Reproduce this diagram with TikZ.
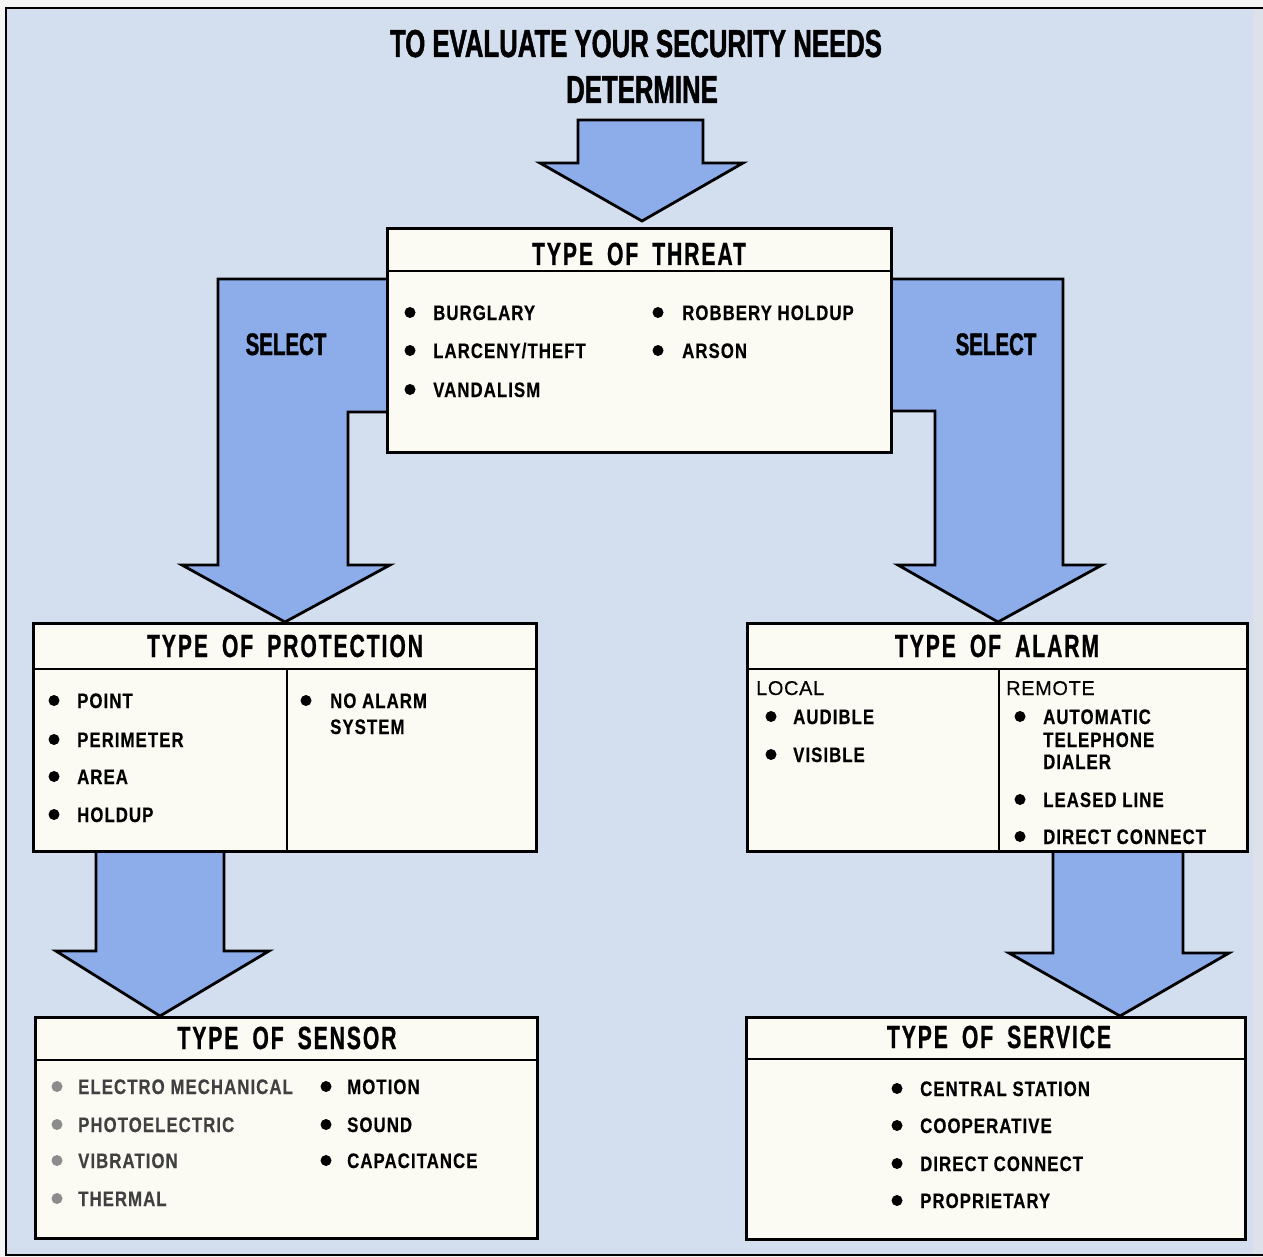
\documentclass[tikz,border=0pt]{standalone}
\usepackage{fontspec}
\setmainfont{Liberation Sans}
\newfontfamily\condfont[FakeStretch=0.66,FakeBold=1.2]{Liberation Sans}
\newfontfamily\headfont[FakeStretch=0.66,LetterSpace=6,WordSpace=1.8,FakeBold=0.8]{Liberation Sans}
\newfontfamily\itemfont[FakeStretch=0.8,LetterSpace=5,FakeBold=0.4]{Liberation Sans}
\newfontfamily\subfont[LetterSpace=3,FakeBold=0.3]{Liberation Sans}
\definecolor{bgblue}{HTML}{D3DEEF}
\definecolor{arrowblue}{HTML}{8DADEA}
\definecolor{boxwhite}{HTML}{FBFAF3}
\definecolor{edgestrip}{HTML}{DCE1EA}
\newcommand\bulitem[5]{%
  \fill (#2,#3-7.5) circle (5.5);
  \node[itemtxt] (#1) at (#4,#3) {#5};}
\newcommand\bulitemg[5]{%
  \fill[black!45] (#2,#3-7.5) circle (5.5);
  \node[itemtxt,text=black!75] (#1) at (#4,#3) {#5};}
\tikzset{
  boxsty/.style={draw=black, fill=boxwhite, line width=3pt, anchor=north west, inner sep=0, outer sep=0},
  arrowsty/.style={draw=black, fill=arrowblue, line width=2.8pt, line join=miter},
  divsty/.style={draw=black, line width=2.8pt},
  itemtxt/.style={anchor=base west, inner sep=0, font=\itemfont\bfseries\fontsize{21}{23}\selectfont},
  subtxt/.style={anchor=base west, inner sep=0, font=\subfont\fontsize{20}{22}\selectfont},
  headtxt/.style={anchor=base, inner sep=0, font=\headfont\bfseries\fontsize{32}{36}\selectfont},
  titletxt/.style={anchor=base, inner sep=0, font=\condfont\bfseries\fontsize{39}{42}\selectfont},
  seltxt/.style={anchor=base, inner sep=0, font=\condfont\bfseries\fontsize{31}{34}\selectfont}
}
\begin{document}
\begin{tikzpicture}[x=1pt,y=-1pt]
\useasboundingbox (0,0) rectangle (1263,1257);
% background and frame
\fill[white!96!black] (0,0) rectangle (1263,1257);
\fill[bgblue] (6,8) rectangle (1263,1255);
\fill[edgestrip] (1253,8) rectangle (1263,1255);
\draw[line width=2pt] (1263,8) -- (6,8) -- (6,1255) -- (1263,1255);

% title
\node[titletxt] (title) at (636,57) {TO EVALUATE YOUR SECURITY NEEDS};
\node[titletxt] (determine) at (642,103) {DETERMINE};

% arrows
\draw[arrowsty] (578,120) -- (703,120) -- (703,163) -- (743,163) -- (642,221) -- (540,163) -- (578,163) -- cycle;
\draw[arrowsty] (218,279) -- (398,279) -- (398,412) -- (348,412) -- (348,565) -- (390,565) -- (285,622) -- (182,565) -- (218,565) -- cycle;
\draw[arrowsty] (1063,279) -- (880,279) -- (880,411) -- (935,411) -- (935,565) -- (898,565) -- (998,622) -- (1102,565) -- (1063,565) -- cycle;
\draw[arrowsty] (96,845) -- (224,845) -- (224,951) -- (269,951) -- (160,1016) -- (56,951) -- (96,951) -- cycle;
\draw[arrowsty] (1053,845) -- (1183,845) -- (1183,953) -- (1229,953) -- (1120,1016) -- (1009,953) -- (1053,953) -- cycle;

\node[seltxt] (selL) at (286,355) {SELECT};
\node[seltxt] (selR) at (996,355) {SELECT};

% boxes
\node[boxsty, minimum width=504, minimum height=223] (threat) at (387,229) {};
\draw[divsty] (387,271) -- (891,271);
\node[boxsty, minimum width=503, minimum height=228] (prot) at (33,623) {};
\draw[divsty] (33,669) -- (536,669);
\draw[divsty] (287,669) -- (287,851);
\node[boxsty, minimum width=500, minimum height=228] (alarm) at (747,623) {};
\draw[divsty] (747,669) -- (1247,669);
\draw[divsty] (999,669) -- (999,851);
\node[boxsty, minimum width=502, minimum height=221] (sensor) at (35,1017) {};
\draw[divsty] (35,1060) -- (537,1060);
\node[boxsty, minimum width=499, minimum height=222] (service) at (746,1017) {};
\draw[divsty] (746,1059) -- (1245,1059);

% headers
\node[headtxt] (threatH) at (639,265) {TYPE OF THREAT};
\node[headtxt] (protH) at (285,657) {TYPE OF PROTECTION};
\node[headtxt] (alarmH) at (997,657) {TYPE OF ALARM};
\node[headtxt] (sensorH) at (287,1049) {TYPE OF SENSOR};
\node[headtxt] (serviceH) at (999,1048) {TYPE OF SERVICE};

% threat items
\bulitem{th1}{410}{320}{433}{BURGLARY}
\bulitem{th2}{410}{358}{433}{LARCENY/THEFT}
\bulitem{th3}{410}{397}{433}{VANDALISM}
\bulitem{th4}{658}{320}{682}{ROBBERY HOLDUP}
\bulitem{th5}{658}{358}{682}{ARSON}

% protection items
\bulitem{pr1}{54}{708}{77}{POINT}
\bulitem{pr2}{54}{747}{77}{PERIMETER}
\bulitem{pr3}{54}{784}{77}{AREA}
\bulitem{pr4}{54}{822}{77}{HOLDUP}
\bulitem{pr5}{306}{708}{330}{NO ALARM}
\node[itemtxt] (pr5b) at (330,734) {SYSTEM};

% alarm items
\node[subtxt] (local) at (756,695) {LOCAL};
\bulitem{al1}{771}{724}{793}{AUDIBLE}
\bulitem{al2}{771}{762}{793}{VISIBLE}
\node[subtxt] (remote) at (1006,695) {REMOTE};
\bulitem{al3}{1020}{724}{1043}{AUTOMATIC}
\node[itemtxt] (al3b) at (1043,747) {TELEPHONE};
\node[itemtxt] (al3c) at (1043,769) {DIALER};
\bulitem{al4}{1020}{807}{1043}{LEASED LINE}
\bulitem{al5}{1020}{844}{1043}{DIRECT CONNECT}

% sensor items
\bulitemg{se1}{57}{1094}{78}{ELECTRO MECHANICAL}
\bulitemg{se2}{57}{1132}{78}{PHOTOELECTRIC}
\bulitemg{se3}{57}{1168}{78}{VIBRATION}
\bulitemg{se4}{57}{1206}{78}{THERMAL}
\bulitem{se5}{326}{1094}{347}{MOTION}
\bulitem{se6}{326}{1132}{347}{SOUND}
\bulitem{se7}{326}{1168}{347}{CAPACITANCE}

% service items
\bulitem{sv1}{897}{1096}{920}{CENTRAL STATION}
\bulitem{sv2}{897}{1133}{920}{COOPERATIVE}
\bulitem{sv3}{897}{1171}{920}{DIRECT CONNECT}
\bulitem{sv4}{897}{1208}{920}{PROPRIETARY}
\end{tikzpicture}
\end{document}
